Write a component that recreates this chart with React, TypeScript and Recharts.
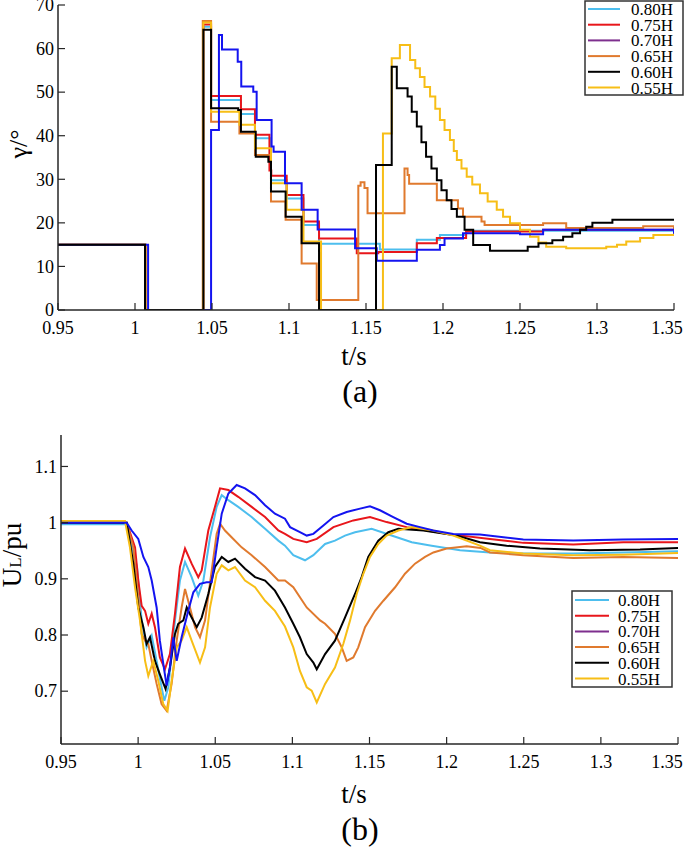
import { Line, LineChart, XAxis, YAxis } from "recharts";

const AXIS = "#262626";
const FONT = "Liberation Serif, DejaVu Serif, serif";

const xTicks = [0.95, 1, 1.05, 1.1, 1.15, 1.2, 1.25, 1.3, 1.35];
const gammaTicks = [0, 10, 20, 30, 40, 50, 60, 70];
const uTicks = [0.7, 0.8, 0.9, 1, 1.1];

const labels = ["0.80H", "0.75H", "0.70H", "0.65H", "0.60H", "0.55H"];
const lineColors = ["#4DBEEE", "#E8161B", "#1414F0", "#E07A2E", "#000000", "#F7BE16"];
const legendColors = ["#4DBEEE", "#E8161B", "#7E2F8E", "#E07A2E", "#000000", "#F7BE16"];

// (a) firing angle, step breakpoints (t in s, gamma in deg)
const gT80 = [0.95, 1.0068, 1.0444, 1.0494, 1.0688, 1.0779, 1.0883, 1.0985, 1.1094, 1.1195, 1.159, 1.183, 1.198, 1.215, 1.35];
const gV80 = [15, 0, 65, 48.2, 45.0, 39.4, 29.8, 25.6, 19.5, 15.2, 13.9, 16.1, 17.2, 18.2, 17.8];

const gT75 = [0.95, 1.0068, 1.0444, 1.0494, 1.0688, 1.0779, 1.0873, 1.0885, 1.0985, 1.1094, 1.1195, 1.144, 1.158, 1.183, 1.196, 1.215, 1.265, 1.35];
const gV75 = [15, 0, 65.5, 49.1, 46.1, 40.2, 32.0, 30.8, 26.4, 20.3, 16.4, 13.0, 13.3, 15.3, 16.5, 18.0, 18.4, 17.8];

const gT70 = [0.95, 1.0085, 1.0494, 1.0545, 1.0565, 1.0667, 1.069, 1.0768, 1.079, 1.0887, 1.09, 1.0974, 1.1082, 1.1186, 1.1429, 1.157, 1.183, 1.198, 1.201, 1.213, 1.25, 1.265, 1.35];
const gV70 = [15, 0, 41.3, 63.1, 59.8, 57, 51.3, 50.1, 43.6, 37.5, 36.3, 29.1, 23, 18.5, 14.2, 11.3, 13.8, 14.9, 16.4, 17.6, 17.4, 18.4, 17.5];

const gT65 = [0.95, 1.0068, 1.044, 1.0494, 1.0678, 1.0779, 1.0883, 1.0978, 1.1082, 1.118, 1.145, 1.1465, 1.149, 1.151, 1.175, 1.177, 1.178, 1.196, 1.2097, 1.213, 1.225, 1.227, 1.265, 1.28, 1.33, 1.35];
const gV65 = [15, 0, 66.3, 43.2, 40.5, 35.6, 24.9, 20.7, 10.7, 2.3, 28.5, 29.3, 28, 22.2, 32.5, 31, 29, 25.2, 23.3, 21.4, 20.3, 19.5, 19.9, 18.8, 19.2, 18.5];

const gT60 = [0.95, 1.0065, 1.0444, 1.0494, 1.067, 1.0688, 1.0784, 1.0866, 1.0883, 1.0978, 1.1082, 1.1195, 1.1565, 1.1667, 1.17, 1.177, 1.1797, 1.183, 1.186, 1.189, 1.1925, 1.196, 1.199, 1.2024, 1.2055, 1.209, 1.214, 1.2196, 1.2305, 1.255, 1.262, 1.271, 1.278, 1.284, 1.289, 1.293, 1.297, 1.31, 1.35];
const gV60 = [15, 0, 64.3, 46.3, 45.9, 40.9, 35.2, 34.0, 27.2, 21.4, 15.3, 0, 33.3, 55.8, 50.9, 49.0, 45.5, 42.1, 38.5, 35.2, 32.5, 29.8, 27.5, 25.2, 23.2, 21.4, 18.4, 14.9, 13.6, 14.5, 15.3, 16.0, 16.8, 17.6, 18.4, 19.1, 20.0, 20.7, 20.8];

const gT55 = [0.95, 1.0068, 1.0444, 1.0494, 1.0678, 1.0779, 1.0883, 1.0985, 1.1094, 1.1208, 1.161, 1.1667, 1.172, 1.1786, 1.182, 1.185, 1.188, 1.1916, 1.195, 1.198, 1.201, 1.2045, 1.207, 1.209, 1.212, 1.2154, 1.219, 1.224, 1.229, 1.2349, 1.239, 1.2435, 1.25, 1.2565, 1.262, 1.267, 1.28, 1.306, 1.313, 1.319, 1.328, 1.3366, 1.35];
const gV55 = [15, 0, 66, 45.5, 42.5, 37.1, 29.1, 23.0, 15.7, 0, 40.5, 57.8, 60.8, 57.4, 55.5, 53.5, 51.2, 49, 46.2, 43.6, 41.3, 39, 36.5, 34.4, 32.5, 30.6, 28.8, 26.8, 24.9, 23, 21.4, 19.9, 18.4, 16.8, 15.5, 14.5, 14.2, 14.5, 15.0, 15.7, 16.5, 17.2, 18];

// (b) load voltage (t in s, U in pu)
const uT80 = [0.95, 0.9926, 0.9993, 1.0023, 1.0055, 1.0088, 1.012, 1.0152, 1.017, 1.0196, 1.0239, 1.0271, 1.0304, 1.0347, 1.039, 1.0423, 1.0466, 1.0509, 1.0542, 1.0585, 1.0649, 1.0736, 1.0823, 1.0909, 1.0952, 1.1006, 1.1082, 1.1136, 1.1212, 1.1276, 1.1341, 1.1406, 1.1514, 1.1643, 1.1774, 1.1903, 1.2087, 1.2281, 1.2497, 1.2821, 1.3145, 1.35];
const uV80 = [0.997, 0.997, 0.921, 0.826, 0.778, 0.799, 0.754, 0.707, 0.683, 0.707, 0.826, 0.897, 0.93, 0.903, 0.87, 0.897, 0.974, 1.028, 1.049, 1.04, 1.028, 1.01, 0.989, 0.968, 0.959, 0.942, 0.933, 0.942, 0.962, 0.968, 0.977, 0.983, 0.989, 0.977, 0.965, 0.959, 0.951, 0.947, 0.945, 0.945, 0.947, 0.949];

const uT75 = [0.95, 0.9926, 0.998, 1.0001, 1.0023, 1.0045, 1.0066, 1.0088, 1.0109, 1.0141, 1.0174, 1.0206, 1.0239, 1.0271, 1.0304, 1.0347, 1.039, 1.0412, 1.0455, 1.0498, 1.0531, 1.0585, 1.0649, 1.0736, 1.0823, 1.0909, 1.0952, 1.1006, 1.1093, 1.1158, 1.1266, 1.1395, 1.1503, 1.1611, 1.1741, 1.1871, 1.2, 1.2281, 1.2497, 1.2821, 1.3145, 1.35];
const uV75 = [1.0, 1.0, 0.956, 0.897, 0.852, 0.843, 0.82, 0.838, 0.814, 0.76, 0.739, 0.766, 0.838, 0.921, 0.954, 0.927, 0.903, 0.915, 0.986, 1.028, 1.061, 1.058, 1.046, 1.028, 1.01, 0.986, 0.98, 0.971, 0.965, 0.971, 0.992, 1.004, 1.01, 1.001, 0.992, 0.986, 0.98, 0.971, 0.964, 0.961, 0.965, 0.965];

const uT70 = [0.95, 0.9926, 0.9958, 1.0001, 1.0034, 1.0066, 1.0088, 1.012, 1.0141, 1.017, 1.0185, 1.0206, 1.0228, 1.025, 1.0282, 1.0325, 1.0358, 1.0401, 1.0444, 1.0477, 1.0509, 1.0542, 1.0585, 1.0639, 1.0693, 1.0758, 1.0823, 1.0887, 1.0952, 1.0985, 1.1049, 1.1093, 1.1136, 1.1201, 1.1266, 1.1352, 1.1439, 1.1503, 1.1568, 1.1654, 1.1741, 1.1827, 1.1914, 1.2043, 1.2216, 1.2497, 1.2821, 1.3145, 1.35];
const uV70 = [1.0, 1.0, 0.986, 0.971, 0.939, 0.921, 0.897, 0.849, 0.79, 0.736, 0.71, 0.742, 0.796, 0.754, 0.796, 0.843, 0.876, 0.891, 0.894, 0.894, 0.956, 1.016, 1.052, 1.067, 1.061, 1.049, 1.031, 1.016, 1.007, 0.992, 0.983, 0.977, 0.98, 0.995, 1.01, 1.019, 1.025, 1.029, 1.022, 1.01, 0.998, 0.992, 0.986, 0.98, 0.979, 0.97, 0.968, 0.97, 0.971];

const uT65 = [0.95, 0.9926, 0.9969, 1.0001, 1.0023, 1.0045, 1.0066, 1.0088, 1.012, 1.0152, 1.0185, 1.0217, 1.025, 1.0282, 1.0304, 1.0336, 1.0369, 1.0401, 1.0434, 1.0477, 1.0509, 1.0531, 1.0563, 1.0606, 1.0671, 1.0736, 1.0823, 1.0909, 1.0952, 1.1006, 1.1093, 1.118, 1.1212, 1.1276, 1.132, 1.1352, 1.1395, 1.1427, 1.1471, 1.1536, 1.159, 1.1666, 1.173, 1.1795, 1.186, 1.1914, 1.2, 1.213, 1.222, 1.2281, 1.2497, 1.2821, 1.3145, 1.35];
const uV65 = [1.0, 1.0, 0.956, 0.867, 0.802, 0.79, 0.784, 0.754, 0.713, 0.677, 0.665, 0.713, 0.79, 0.849, 0.882, 0.849, 0.814, 0.796, 0.826, 0.915, 0.98, 0.998, 0.986, 0.974, 0.956, 0.942, 0.921, 0.897, 0.897, 0.885, 0.849, 0.826, 0.82, 0.802, 0.778, 0.754, 0.76, 0.778, 0.814, 0.843, 0.861, 0.885, 0.909, 0.927, 0.939, 0.947, 0.954, 0.958, 0.955, 0.947, 0.942, 0.937, 0.939, 0.937];

const uT60 = [0.95, 0.9926, 0.9969, 1.0001, 1.0034, 1.0055, 1.0077, 1.0109, 1.0141, 1.0178, 1.0206, 1.0239, 1.026, 1.0293, 1.0315, 1.0347, 1.038, 1.0412, 1.0455, 1.0498, 1.0542, 1.0585, 1.0628, 1.0693, 1.0758, 1.0823, 1.0887, 1.0952, 1.1006, 1.1049, 1.1093, 1.1136, 1.1158, 1.1212, 1.1276, 1.1341, 1.1406, 1.1449, 1.1492, 1.1557, 1.1622, 1.1687, 1.1849, 1.2065, 1.2216, 1.2389, 1.2605, 1.2929, 1.3254, 1.35];
const uV60 = [1.0, 1.0, 0.927, 0.849, 0.814, 0.784, 0.796, 0.754, 0.73, 0.704, 0.742, 0.802, 0.82, 0.826, 0.849, 0.831, 0.814, 0.831, 0.873, 0.921, 0.939, 0.93, 0.936, 0.918, 0.903, 0.897, 0.879, 0.849, 0.82, 0.796, 0.766, 0.751, 0.739, 0.766, 0.79, 0.831, 0.873, 0.903, 0.939, 0.968, 0.983, 0.989, 0.986, 0.977, 0.965, 0.959, 0.954, 0.951, 0.952, 0.955];

const uT55 = [0.95, 0.9915, 0.9947, 0.998, 1.0012, 1.0045, 1.0066, 1.0098, 1.0131, 1.0163, 1.0191, 1.0217, 1.025, 1.0282, 1.0315, 1.0347, 1.0401, 1.0434, 1.0466, 1.0509, 1.0542, 1.0585, 1.0628, 1.0693, 1.0758, 1.0823, 1.0887, 1.0952, 1.1006, 1.1049, 1.1093, 1.1125, 1.1158, 1.1212, 1.1276, 1.133, 1.1374, 1.1417, 1.146, 1.1503, 1.1557, 1.1611, 1.1687, 1.1774, 1.1914, 1.2043, 1.2216, 1.2281, 1.2497, 1.2821, 1.3145, 1.35];
const uV55 = [1.003, 1.003, 0.956, 0.885, 0.826, 0.754, 0.727, 0.754, 0.718, 0.677, 0.665, 0.718, 0.778, 0.79, 0.814, 0.79, 0.751, 0.778, 0.849, 0.909, 0.924, 0.915, 0.921, 0.897, 0.885, 0.861, 0.843, 0.815, 0.778, 0.736, 0.707, 0.701, 0.68, 0.713, 0.742, 0.784, 0.826, 0.873, 0.909, 0.939, 0.962, 0.977, 0.986, 0.992, 0.986, 0.977, 0.959, 0.951, 0.945, 0.942, 0.943, 0.946];

const pts = (t: number[], v: number[]) =>
  t.slice(0, Math.min(t.length, v.length)).map((x, i) => ({ t: x, v: v[i] }));

const gammaData = [pts(gT80, gV80), pts(gT75, gV75), pts(gT70, gV70), pts(gT65, gV65), pts(gT60, gV60), pts(gT55, gV55)];
const uData = [pts(uT80, uV80), pts(uT75, uV75), pts(uT70, uV70), pts(uT65, uV65), pts(uT60, uV60), pts(uT55, uV55)];

const topOrder = [0, 1, 3, 5, 2, 4];
const bottomOrder = [0, 1, 3, 4, 5, 2];

const txt = { fontFamily: FONT };

const XTick = (props: any) => {
  const { x, y, payload } = props;
  // keep the last label inside the 685px page
  const tx = Math.min(x, 667);
  return (
    <g>
      <line x1={x} y1={y} x2={x} y2={y - 7} stroke={AXIS} strokeWidth={1.2} />
      <text x={tx} y={y + 24} textAnchor="middle" fontSize={18} style={txt} fill="#000">
        {payload.value}
      </text>
    </g>
  );
};

const YTick = (props: any) => {
  const { x, y, payload } = props;
  return (
    <g>
      <line x1={x} y1={y} x2={x + 7} y2={y} stroke={AXIS} strokeWidth={1.2} />
      <text x={x - 4} y={y} dy="0.35em" textAnchor="end" fontSize={18} style={txt} fill="#000">
        {payload.value}
      </text>
    </g>
  );
};

const axisLine = { stroke: AXIS, strokeWidth: 1.5 };

function LegendBox({ x, y, w, h, row0, lx0, lx1, tx }: any) {
  return (
    <g>
      <rect x={x} y={y} width={w} height={h} fill="#fff" stroke="#333" strokeWidth={1.5} />
      {labels.map((lab, i) => {
        const cy = row0 + i * 15.7;
        return (
          <g key={lab}>
            <line x1={lx0} y1={cy} x2={lx1} y2={cy} stroke={legendColors[i]} strokeWidth={2} />
            <text x={tx} y={cy + 6} fontSize={17} style={txt} fill="#000">
              {lab}
            </text>
          </g>
        );
      })}
    </g>
  );
}

export default function App() {
  return (
    <div style={{ position: "absolute", left: 0, top: 0, width: 685, height: 848, background: "#fff", fontFamily: FONT }}>
      <div style={{ position: "absolute", left: 0, top: 0 }}>
        <LineChart width={685} height={420} margin={{ top: 5, right: 11, bottom: 0, left: 0 }}>
          <XAxis
            type="number"
            dataKey="t"
            domain={[0.95, 1.35]}
            ticks={xTicks}
            interval={0}
            tickSize={0}
            tickMargin={0}
            tickLine={false}
            tick={(p: any) => <XTick {...p} />}
            axisLine={axisLine}
            height={110}
            allowDataOverflow
          />
          <YAxis
            type="number"
            domain={[0, 70]}
            ticks={gammaTicks}
            interval={0}
            tickSize={0}
            tickMargin={0}
            tickLine={false}
            tick={(p: any) => <YTick {...p} />}
            axisLine={axisLine}
            width={58}
            allowDataOverflow
          />
          {topOrder.map((i) => (
            <Line
              key={labels[i]}
              data={gammaData[i]}
              dataKey="v"
              type="stepAfter"
              stroke={lineColors[i]}
              strokeWidth={2}
              dot={false}
              activeDot={false}
              isAnimationActive={false}
            />
          ))}
        </LineChart>
      </div>
      <div style={{ position: "absolute", left: 0, top: 420 }}>
        <LineChart width={685} height={428} margin={{ top: 15, right: 7, bottom: 0, left: 0 }}>
          <XAxis
            type="number"
            dataKey="t"
            domain={[0.95, 1.35]}
            ticks={xTicks}
            interval={0}
            tickSize={0}
            tickMargin={0}
            tickLine={false}
            tick={(p: any) => <XTick {...p} />}
            axisLine={axisLine}
            height={104}
            allowDataOverflow
          />
          <YAxis
            type="number"
            domain={[0.606, 1.156]}
            ticks={uTicks}
            interval={0}
            tickSize={0}
            tickMargin={0}
            tickLine={false}
            tick={(p: any) => <YTick {...p} />}
            axisLine={axisLine}
            width={61}
            allowDataOverflow
          />
          {bottomOrder.map((i) => (
            <Line
              key={labels[i]}
              data={uData[i]}
              dataKey="v"
              type="linear"
              stroke={lineColors[i]}
              strokeWidth={2}
              dot={false}
              activeDot={false}
              isAnimationActive={false}
            />
          ))}
        </LineChart>
      </div>
      <svg width={685} height={848} style={{ position: "absolute", left: 0, top: 0, pointerEvents: "none" }}>
        <text transform="translate(27,144) rotate(-90)" textAnchor="middle" fontSize={26} style={txt}>
          γ/°
        </text>
        <text transform="translate(21,555) rotate(-90)" textAnchor="middle" fontSize={27} style={txt}>
          U<tspan fontSize={17}>L</tspan>/pu
        </text>
        <text x={354} y={365} textAnchor="middle" fontSize={27} style={txt}>t/s</text>
        <text x={360} y={402} textAnchor="middle" fontSize={32} style={txt}>(a)</text>
        <text x={354} y={803} textAnchor="middle" fontSize={27} style={txt}>t/s</text>
        <text x={360} y={840} textAnchor="middle" fontSize={32} style={txt}>(b)</text>
        <LegendBox x={585} y={1} w={98} h={94} row0={9} lx0={588} lx1={620} tx={631} />
        <LegendBox x={572} y={591} w={100} h={96} row0={600} lx0={575} lx1={609} tx={618} />
      </svg>
    </div>
  );
}
